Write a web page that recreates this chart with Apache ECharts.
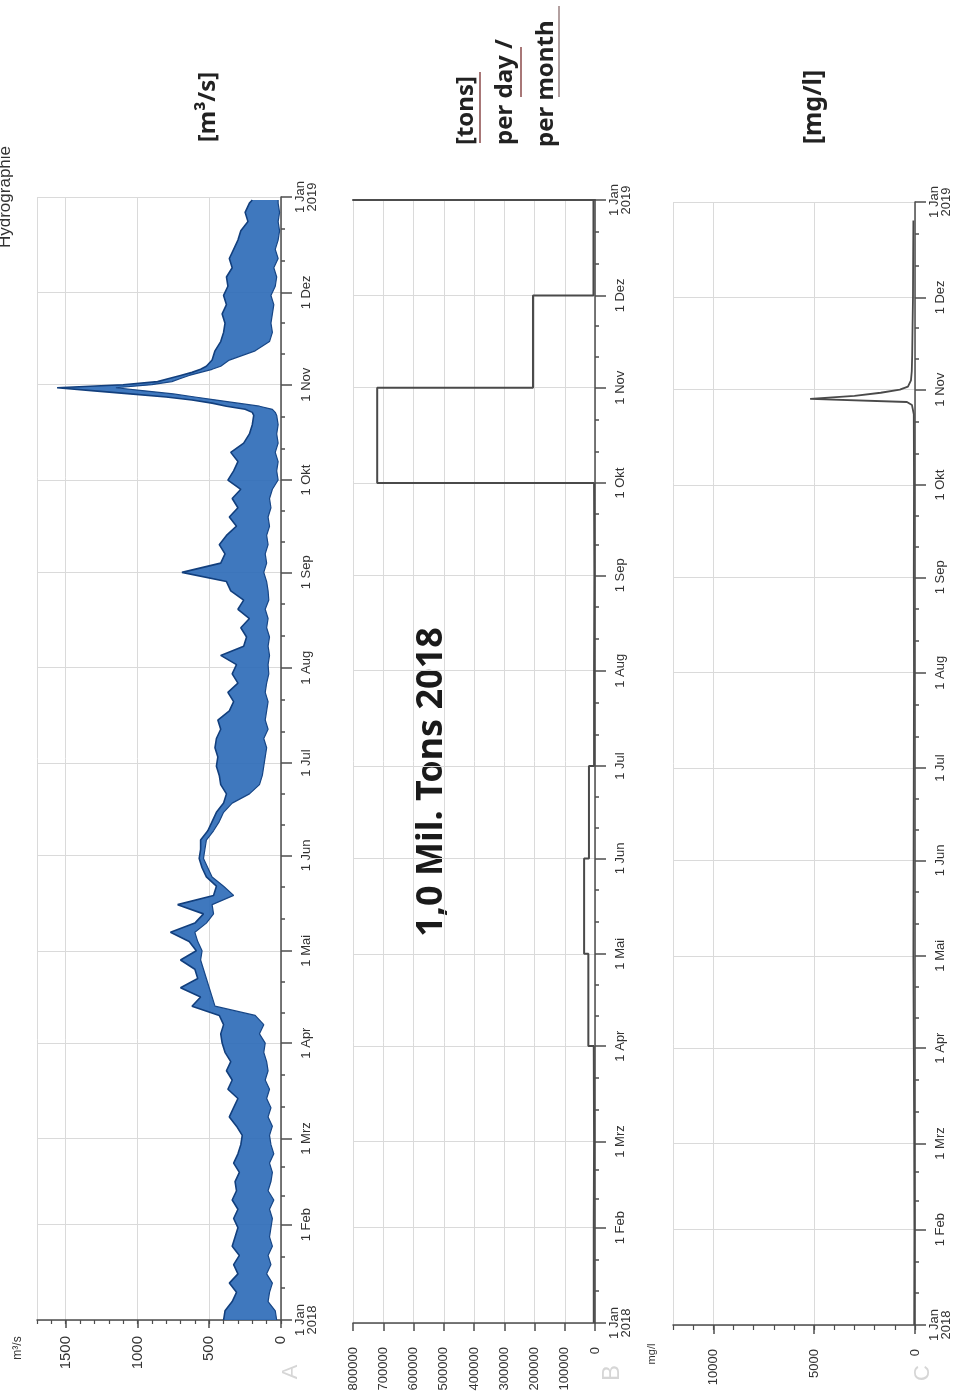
<!DOCTYPE html>
<html><head><meta charset="utf-8">
<script src="https://cdn.jsdelivr.net/npm/echarts@6/dist/echarts.min.js"></script>
<style>html,body{margin:0;padding:0;background:#fff}#c{width:968px;height:1400px}</style>
</head><body><div id="c"></div>
<script>
// ---- tick labels ----
const months = ['Jan','Feb','Mrz','Apr','Mai','Jun','Jul','Aug','Sep','Okt','Nov','Dez'];

// ---- A: discharge [m3/s], day of year 2018, lower / upper envelope ----
const flowDays = [0,3,6,9,12,15,18,21,24,27,30,
  33,36,39,42,45,48,51,54,57,
  60,63,66,69,72,75,78,81,84,87,
  90,93,96,99,102,105,108,111,114,117,
  120,123,126,129,132,135,138,141,144,147,150,
  153,156,159,162,165,168,171,174,177,180,
  183,186,189,192,195,198,201,204,207,210,
  213,216,219,222,225,228,231,234,237,240,
  243,246,249,252,255,258,261,264,267,270,
  273,276,279,282,285,288,291,294,
  295,296,297,298,299,300,301,302,303,304,305,306,307,308,309,310,
  312,315,318,321,324,327,330,333,336,339,342,345,348,351,354,357,360,363,364];
const flowHigh = [400,390,340,310,360,300,330,290,340,320,300,
  330,300,340,310,320,290,330,300,280,
  270,310,360,330,300,370,340,380,350,390,
  410,420,400,430,620,560,700,580,600,700,
  590,640,770,600,540,720,470,450,520,550,570,
  560,560,510,480,450,400,380,420,430,450,
  440,460,450,420,440,360,330,370,300,340,
  310,420,260,240,280,220,300,260,350,380,
  690,420,390,430,380,310,360,300,340,280,
  370,330,300,350,260,220,200,190,
  200,250,380,480,620,800,1050,1300,1560,1100,860,780,700,620,560,520,
  480,460,420,400,390,410,380,400,370,380,340,360,330,300,280,230,250,220,200];
const flowLow = [30,40,90,80,60,100,70,90,60,80,70,
  60,80,50,90,70,60,80,50,70,
  80,60,90,70,100,80,110,90,100,120,
  110,150,120,180,460,480,500,520,540,560,
  550,580,600,520,470,480,330,400,480,510,540,
  530,520,470,430,400,340,220,150,130,120,
  110,100,120,90,110,100,90,110,100,85,
  90,80,90,80,100,90,110,85,90,100,
  120,100,110,90,100,80,90,70,80,60,
  20,30,20,40,20,30,20,30,
  40,60,150,300,450,600,750,950,1150,900,760,700,640,560,480,420,
  360,180,80,60,70,60,50,70,40,30,50,20,40,20,10,20,10,20,20];

// ---- B: sediment load per month [t] ----
const sedMonthly = [4000,3000,4000,22000,36000,20000,3000,2000,3000,720000,205000,5000];

// ---- C: concentration [mg/l] ----
const concDays = [0,31,59,90,120,151,181,212,243,273,296,299,300,301,302,303,304,305,307,310,315,325,334,348,359];
const concVals = [40,30,40,60,80,70,60,50,60,50,60,150,400,5200,3000,1700,750,350,200,160,140,120,100,90,80];

// ---- build ----
const DAY = 86400000;
const T0 = Date.UTC(2018,0,1), T1 = Date.UTC(2019,0,1);
const ts = d => T0 + d*DAY;
const lowData = flowDays.map((d,i)=>[flowLow[i], ts(d)]);
const bandData = flowDays.map((d,i)=>[flowHigh[i]-flowLow[i], ts(d)]);
const sedData = sedMonthly.map((v,i)=>[v, Date.UTC(2018,i,1)]).concat([[sedMonthly[11], T1]]);
const concData = concDays.map((d,i)=>[concVals[i], ts(d)]);

const gridColor = '#dadada', axisColor = '#4d4d4d', labelColor = '#333';
const FONT = '"Liberation Sans", Arial, sans-serif';
const BOLD = '"Noto Sans", "Open Sans", sans-serif';
const plain = v => String(v);

function timeAxis(gi){
  return {
    type:'time', gridIndex:gi, position:'right', min:T0, max:T1, splitNumber:12,
    axisLine:{show:true, onZero:false, lineStyle:{color:axisColor, width:1.5}},
    axisTick:{show:true, length:11, lineStyle:{color:axisColor, width:1.5}},
    minorTick:{show:true, splitNumber:3, length:4, lineStyle:{color:axisColor, width:1.5}},
    splitLine:{show:true, lineStyle:{color:gridColor, width:1}},
    axisLabel:{show:true, rotate:90, align:'center', verticalAlign:'middle', margin:25,
      fontSize:13, lineHeight:12, color:labelColor, fontFamily:FONT,
      showMinLabel:true, showMaxLabel:true, hideOverlap:false,
      formatter:function(v){ const d=new Date(v); const m=d.getUTCMonth();
        const s=d.getUTCDate()+' '+months[m]; return m===0 ? s+'\n'+d.getUTCFullYear() : s; }}
  };
}
function valAxis(gi, max, interval, o){
  return Object.assign({
    type:'value', gridIndex:gi, inverse:true, position:'bottom', min:0, max:max, interval:interval,
    axisLine:{show:true, onZero:false, lineStyle:{color:axisColor, width:1.5}},
    axisTick:{show:true, length:8, lineStyle:{color:axisColor, width:1.5}},
    splitLine:{show:true, lineStyle:{color:gridColor, width:1}},
    axisLabel:{show:true, rotate:90, margin:20, fontSize:13, color:labelColor, fontFamily:FONT, showMaxLabel:false, formatter:plain}
  }, o||{});
}
function minorAxis(gi, max, interval, len){
  return {type:'value', gridIndex:gi, inverse:true, position:'bottom', min:0, max:max, interval:interval,
    axisLine:{show:false, onZero:false}, axisTick:{show:true, length:len, lineStyle:{color:axisColor, width:1.2}},
    axisLabel:{show:false}, splitLine:{show:false}};
}
function vtext(x, y, text, size, weight, color, align, family){
  return {type:'text', x:x, y:y, rotation:Math.PI/2, silent:true,
    style:{text:text, fontSize:size, fontWeight:weight, fontFamily:family||BOLD, fill:color,
      align:align||'center', verticalAlign:'middle', textAlign:align||'center', textVerticalAlign:'middle'}};
}
function vline(x, y1, y2, color){
  return {type:'line', silent:true, shape:{x1:x, y1:y1, x2:x, y2:y2}, style:{stroke:color, lineWidth:1.5}};
}

const option = {
  animation:false, useUTC:true, backgroundColor:'#fff',
  textStyle:{fontFamily:FONT},
  grid:[
    {left:37, top:197, width:244, height:1123, outerBoundsMode:'none'},
    {left:353, top:200, width:242, height:1123, outerBoundsMode:'none'},
    {left:673, top:202, width:242, height:1123, outerBoundsMode:'none'}
  ],
  xAxis:[
    valAxis(0, 1700, 500, {axisLabel:{show:true, rotate:90, margin:16, fontSize:15, color:labelColor, fontFamily:FONT, showMaxLabel:false, formatter:plain}}),
    minorAxis(0, 1700, 100, 4),
    valAxis(1, 800000, 100000, {axisLabel:{show:true, rotate:90, margin:24, fontSize:13, color:labelColor, fontFamily:FONT, showMaxLabel:true, formatter:plain}}),
    {type:'value', gridIndex:1, inverse:true, position:'top', min:0, max:800000,
      axisLine:{show:true, onZero:false, lineStyle:{color:axisColor, width:2}}, axisTick:{show:false}, axisLabel:{show:false}, splitLine:{show:false}},
    valAxis(2, 12000, 5000, {axisTick:{show:true, length:9, lineStyle:{color:axisColor, width:1.5}},
      axisLabel:{show:true, rotate:90, margin:24, fontSize:13, color:labelColor, fontFamily:FONT, showMaxLabel:false, formatter:plain}}),
    minorAxis(2, 12000, 1000, 5)
  ],
  yAxis:[timeAxis(0), timeAxis(1), timeAxis(2)],
  series:[
    {type:'line', name:'low', xAxisIndex:0, yAxisIndex:0, data:lowData, stack:'flow',
      symbol:'none', lineStyle:{color:'#174686', width:1.2}},
    {type:'line', name:'band', xAxisIndex:0, yAxisIndex:0, data:bandData, stack:'flow',
      symbol:'none', lineStyle:{color:'#123f7d', width:1.6}, areaStyle:{color:'#2f6db8', opacity:0.92}},
    {type:'line', name:'load', xAxisIndex:2, yAxisIndex:1, data:sedData, step:'end',
      symbol:'none', lineStyle:{color:'#4a4a4a', width:2}},
    {type:'line', name:'conc', xAxisIndex:4, yAxisIndex:2, data:concData,
      symbol:'none', lineStyle:{color:'#4a4a4a', width:1.8}}
  ],
  graphic:[
    vtext(5, 197, 'Hydrographie', 17, 'normal', '#333', 'center', FONT),
    vtext(208, 107, '[m³/s]', 24, 'bold', '#222'),
    vtext(466, 145, '[tons]', 24, 'bold', '#222', 'left'),
    vtext(505, 145, 'per day /', 24, 'bold', '#222', 'left'),
    vtext(546, 147, 'per month', 24, 'bold', '#222', 'left'),
    vline(480, 72, 143, '#8b4a4a'),
    vline(521, 47, 97, '#8b4a4a'),
    vline(559, 6, 97, '#9a8080'),
    vtext(814, 107, '[mg/l]', 25, 'bold', '#222'),
    vtext(432, 782, '1,0 Mil. Tons 2018', 36, 'bold', '#1a1a1a'),
    vtext(18, 1348, 'm³/s', 12, 'normal', '#333', 'center', FONT),
    vtext(652, 1354, 'mg/l', 11, 'normal', '#333', 'center', FONT),
    vtext(291, 1372, 'A', 22, 'normal', '#d6d6d6', 'center', FONT),
    vtext(612, 1373, 'B', 24, 'normal', '#d6d6d6', 'center', FONT),
    vtext(923, 1373, 'C', 22, 'normal', '#d6d6d6', 'center', FONT)
  ]
};
const chart = echarts.init(document.getElementById('c'), null, {renderer:'canvas'});
chart.setOption(option);
</script></body></html>
